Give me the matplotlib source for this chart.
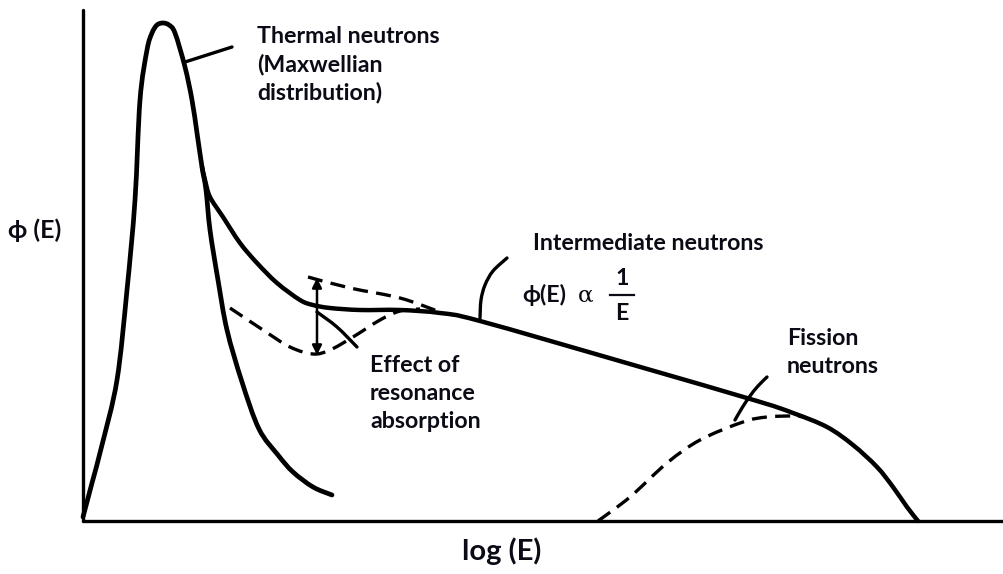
import matplotlib
matplotlib.use("Agg")
import matplotlib.pyplot as plt
from matplotlib.path import Path
from matplotlib.patches import PathPatch

# Schematic neutron flux spectrum phi(E) versus log(E), arbitrary units

# Thermal (Maxwellian) peak, continuing down its steep high-energy side
thermal_logE = [0, 9, 19, 34, 44, 52, 57, 64, 69, 74, 80, 86, 92, 102, 109, 114, 119,
                123, 127, 135, 144, 159, 176, 195, 210, 230, 249]
thermal_phi = [4, 38, 76, 141, 231, 321, 421, 471, 488, 496, 498, 496, 488, 454, 421, 388, 354,
               331, 291, 241, 191, 139, 92, 66, 49, 34, 26]

# Total flux: slowing-down 1/E region joining the fission spectrum
total_logE = [119, 122, 127, 140, 157, 174, 194, 217, 230, 247, 277, 317, 357, 397,
              547, 674, 710, 744, 770, 794, 810, 824, 835]
total_phi = [354, 341, 324, 304, 278, 258, 238, 221, 216, 213, 211, 211, 208, 200,
             157, 120, 108, 94, 76, 54, 34, 14, 0]

# 1/E flux without resonance absorption
ideal_logE = [225, 267, 317, 357]
ideal_phi = [244, 233, 223, 209]

# Flux depressed by resonance absorption
dip_logE = [147, 180, 207, 230, 247, 270, 297, 317, 337]
dip_phi = [213, 191, 174, 167, 171, 184, 201, 210, 212]

# Fission neutron spectrum
fission_logE = [515, 547, 584, 617, 660, 684, 710, 722]
fission_phi = [0, 24, 58, 81, 99, 104, 105, 104]

# Leader lines to the labels
thermal_leader_x = [102, 149]
thermal_leader_y = [459, 474]
inter_leader_x = [397, 398, 402, 410, 424]
inter_leader_y = [203, 221, 236, 250, 263]
fission_leader_x = [652, 659, 667, 675, 684]
fission_leader_y = [101, 113, 125, 135, 144]
resonance_leader_x = [234, 254, 274]
resonance_leader_y = [209, 194, 174]

# Arrow showing the size of the resonance dip
dip_arrow_x = 234
dip_arrow_top = 243
dip_arrow_bottom = 166


def smooth_path(xs, ys):
    """Smooth Bezier path passing through every given point (Catmull-Rom handles)."""
    pts = list(zip(xs, ys))
    n = len(pts)
    verts = [pts[0]]
    codes = [Path.MOVETO]
    for i in range(n - 1):
        p0 = pts[i - 1] if i > 0 else pts[i]
        p1 = pts[i]
        p2 = pts[i + 1]
        p3 = pts[i + 2] if i + 2 < n else pts[i + 1]
        c1 = (p1[0] + (p2[0] - p0[0]) / 6, p1[1] + (p2[1] - p0[1]) / 6)
        c2 = (p2[0] - (p3[0] - p1[0]) / 6, p2[1] - (p3[1] - p1[1]) / 6)
        verts += [c1, c2, p2]
        codes += [Path.CURVE4] * 3
    return Path(verts, codes)


W, H = 1004, 574
fig = plt.figure(figsize=(W / 100, H / 100), dpi=100)
ax = fig.add_axes([83 / W, 53 / H, 921 / W, 511 / H])
ax.set_xlim(0, 921)
ax.set_ylim(0, 511)
for side in ("top", "right"):
    ax.spines[side].set_visible(False)
for side in ("left", "bottom"):
    ax.spines[side].set_linewidth(2.4)
    ax.spines[side].set_capstyle("round")
ax.set_xticks([])
ax.set_yticks([])

ink = "black"


def curve(xs, ys, lw, dashed=False):
    style = dict(fill=False, edgecolor=ink, lw=lw, clip_on=False,
                 joinstyle="round")
    if dashed:
        style.update(linestyle=(0, (4.5, 2.5)), capstyle="butt")
    else:
        style.update(capstyle="round")
    ax.add_patch(PathPatch(smooth_path(xs, ys), **style))


curve(thermal_logE, thermal_phi, 3.4)
curve(total_logE, total_phi, 3.2)
curve(ideal_logE, ideal_phi, 2.4, dashed=True)
curve(dip_logE, dip_phi, 2.4, dashed=True)
curve(fission_logE, fission_phi, 2.4, dashed=True)

curve(thermal_leader_x, thermal_leader_y, 2.4)
curve(inter_leader_x, inter_leader_y, 2.4)
curve(fission_leader_x, fission_leader_y, 2.4)
curve(resonance_leader_x, resonance_leader_y, 2.4)

ax.annotate("", xy=(dip_arrow_x, dip_arrow_top), xytext=(dip_arrow_x, dip_arrow_bottom),
            arrowprops=dict(arrowstyle="<|-|>", lw=1.8, color=ink, mutation_scale=14,
                            shrinkA=0, shrinkB=0))

txt = "#0b0b16"
font = dict(family=["Lato", "DejaVu Sans"], weight="bold", size=16.7, color=txt,
            va="baseline", clip_on=False)

ax.text(174, 478, "Thermal neutrons", **font)
ax.text(174, 450, "(Maxwellian", **font)
ax.text(174, 422, "distribution)", **font)

ax.text(450, 271, "Intermediate neutrons", **font)
ax.text(439, 219, "\u03d5(E)", **font)
ax.text(495, 219, "\u03b1", **{**font, "family": ["DejaVu Serif"], "weight": "normal"})
ax.text(539, 236, "1", ha="center", **font)
ax.plot([527, 551], [226, 226], color=txt, lw=1.6, clip_on=False)
ax.text(539, 201, "E", ha="center", **font)

ax.text(287, 149, "Effect of", **font)
ax.text(287, 121, "resonance", **font)
ax.text(287, 93, "absorption", **font)

ax.text(704, 176, "Fission", **font)
ax.text(704, 148, "neutrons", **font)

ax.text(-75, 283, "\u03d5 (E)", **{**font, "size": 18})
ax.text(419, -39, "log (E)", ha="center", **{**font, "size": 21})

fig.savefig("out.png", dpi=100, facecolor="white")
